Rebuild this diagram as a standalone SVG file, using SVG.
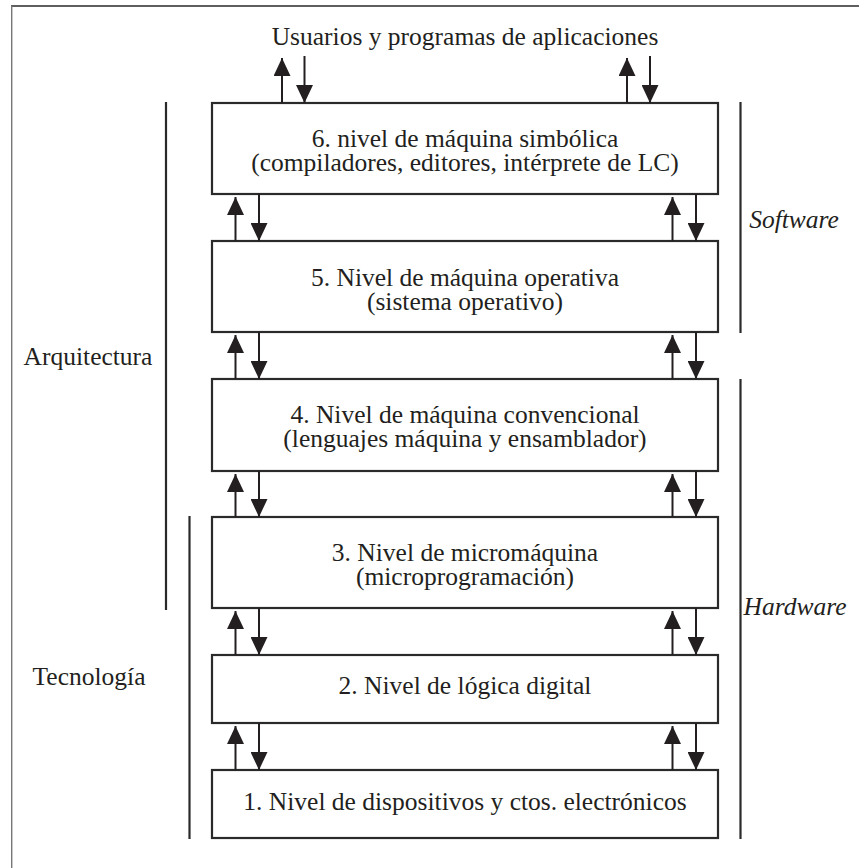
<svg xmlns="http://www.w3.org/2000/svg" width="859" height="868" viewBox="0 0 859 868">
<style>
.box{fill:#fff;stroke:#2a2a2a;stroke-width:2.2}
.t{font-family:"Liberation Serif","Times New Roman",serif;font-size:25.5px;fill:#231f20;text-anchor:middle}
.it{font-style:italic}
.ln{stroke:#2a2a2a;stroke-width:2.2;fill:none}
.ar{stroke:#231f20;stroke-width:2;fill:none;marker-end:url(#ah)}
</style>
<defs>
<marker id="ah" markerUnits="userSpaceOnUse" markerWidth="18" markerHeight="17" refX="18" refY="8.5" orient="auto" viewBox="0 0 18 17">
<path d="M0,0 L18,8.5 L0,17 z" fill="#231f20"/>
</marker>
</defs>
<rect width="859" height="868" fill="#fff"/>
<g id="frame">
<line x1="11" y1="6" x2="859" y2="6" stroke="#2a2a2a" stroke-width="1.6"/>
<line x1="11.7" y1="6" x2="11.7" y2="868" stroke="#777" stroke-width="1.4"/>
</g>
<g id="users"><text class="t" x="465" y="45">Usuarios y programas de aplicaciones</text></g>
<g id="n6"><rect class="box" x="212" y="103" width="506" height="91"/>
<text class="t" x="465" y="146.5">6. nivel de máquina simbólica<tspan x="465" dy="24">(compiladores, editores, intérprete de LC)</tspan></text></g>
<g id="n5"><rect class="box" x="212" y="241" width="506" height="91"/>
<text class="t" x="465" y="286">5. Nivel de máquina operativa<tspan x="465" dy="24">(sistema operativo)</tspan></text></g>
<g id="n4"><rect class="box" x="212" y="379" width="506" height="92"/>
<text class="t" x="465" y="423">4. Nivel de máquina convencional<tspan x="465" dy="24">(lenguajes máquina y ensamblador)</tspan></text></g>
<g id="n3"><rect class="box" x="212" y="517" width="506" height="91"/>
<text class="t" x="465" y="561">3. Nivel de micromáquina<tspan x="465" dy="24">(microprogramación)</tspan></text></g>
<g id="n2"><rect class="box" x="212" y="655" width="506" height="68"/>
<text class="t" x="465" y="693.5">2. Nivel de lógica digital</text></g>
<g id="n1"><rect class="box" x="212" y="770" width="506" height="68"/>
<text class="t" x="465" y="810">1. Nivel de dispositivos y ctos. electrónicos</text></g>
<g id="sides">
<line class="ln" x1="166" y1="102" x2="166" y2="610"/>
<line class="ln" x1="189.5" y1="516" x2="189.5" y2="839"/>
<line class="ln" x1="740.5" y1="102" x2="740.5" y2="333"/>
<line class="ln" x1="740.5" y1="379" x2="740.5" y2="839"/>
<text class="t" x="88" y="365">Arquitectura</text>
<text class="t" x="89" y="685">Tecnología</text>
<text class="t it" x="794" y="228">Software</text>
<text class="t it" x="795" y="615">Hardware</text>
</g>
<g id="connectors">
<line class="ar" x1="282" y1="103" x2="282" y2="58"/>
<line class="ar" x1="304.5" y1="56" x2="304.5" y2="103"/>
<line class="ar" x1="627" y1="103" x2="627" y2="58"/>
<line class="ar" x1="650" y1="56" x2="650" y2="103"/>
<line class="ar" x1="235.5" y1="241" x2="235.5" y2="197"/>
<line class="ar" x1="259" y1="194" x2="259" y2="241"/>
<line class="ar" x1="672.5" y1="241" x2="672.5" y2="197"/>
<line class="ar" x1="696" y1="194" x2="696" y2="241"/>
<line class="ar" x1="235.5" y1="379" x2="235.5" y2="335"/>
<line class="ar" x1="259" y1="332" x2="259" y2="379"/>
<line class="ar" x1="672.5" y1="379" x2="672.5" y2="335"/>
<line class="ar" x1="696" y1="332" x2="696" y2="379"/>
<line class="ar" x1="235.5" y1="517" x2="235.5" y2="474"/>
<line class="ar" x1="259" y1="471" x2="259" y2="517"/>
<line class="ar" x1="672.5" y1="517" x2="672.5" y2="474"/>
<line class="ar" x1="696" y1="471" x2="696" y2="517"/>
<line class="ar" x1="235.5" y1="655" x2="235.5" y2="611"/>
<line class="ar" x1="259" y1="608" x2="259" y2="655"/>
<line class="ar" x1="672.5" y1="655" x2="672.5" y2="611"/>
<line class="ar" x1="696" y1="608" x2="696" y2="655"/>
<line class="ar" x1="235.5" y1="770" x2="235.5" y2="726"/>
<line class="ar" x1="259" y1="723" x2="259" y2="770"/>
<line class="ar" x1="672.5" y1="770" x2="672.5" y2="726"/>
<line class="ar" x1="696" y1="723" x2="696" y2="770"/>
</g>
</svg>
